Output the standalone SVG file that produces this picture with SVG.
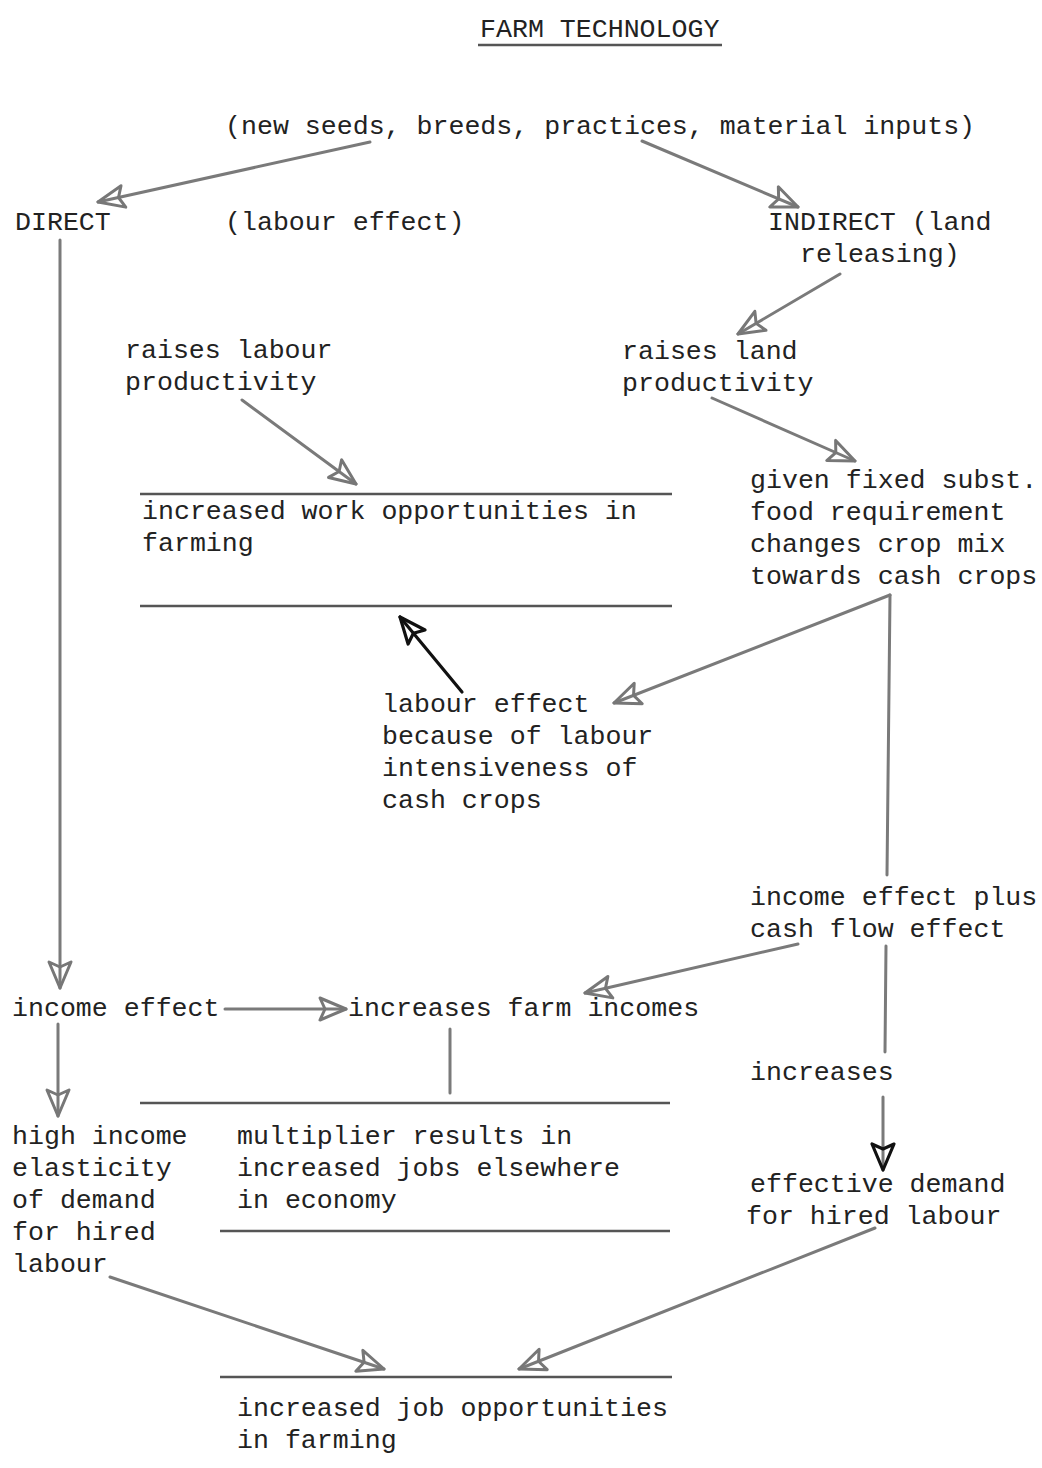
<svg xmlns="http://www.w3.org/2000/svg" width="1042" height="1468" viewBox="0 0 1042 1468">
<defs>
<style>
text{font-family:"Liberation Mono","Courier New",monospace;font-size:26.6px;fill:#222}
.c{fill:none;stroke:#7a7a7a;stroke-width:3;stroke-linecap:round}
.k{fill:none;stroke:#111;stroke-width:3.2;stroke-linecap:round}
.r{fill:none;stroke:#555;stroke-width:2.4}
</style>
<marker id="a" markerUnits="userSpaceOnUse" markerWidth="34" markerHeight="30" refX="30" refY="14" orient="auto" viewBox="0 0 34 28">
<path d="M30,14 L4,3 L9,14 L4,25 Z" fill="none" stroke="#777" stroke-width="3" stroke-linejoin="round"/>
</marker>
<marker id="ak" markerUnits="userSpaceOnUse" markerWidth="34" markerHeight="30" refX="30" refY="14" orient="auto" viewBox="0 0 34 28">
<path d="M30,14 L4,3 L9,14 L4,25 Z" fill="none" stroke="#111" stroke-width="3.2" stroke-linejoin="round"/>
</marker>
</defs>
<rect width="1042" height="1468" fill="#fff"/>

<g id="title">
<text x="480" y="37">FARM TECHNOLOGY</text>
<line class="r" x1="478" y1="45" x2="722" y2="45"/>
</g>
<g id="n_inputs"><text x="225" y="134">(new seeds, breeds, practices, material inputs)</text></g>
<g id="n_direct"><text x="15" y="230">DIRECT</text></g>
<g id="n_labour_effect_label"><text x="225" y="230">(labour effect)</text></g>
<g id="n_indirect"><text x="768" y="230">INDIRECT (land</text><text x="800" y="262">releasing)</text></g>
<g id="n_raises_labour"><text x="125" y="358">raises labour</text><text x="125" y="390">productivity</text></g>
<g id="n_raises_land"><text x="622" y="359">raises land</text><text x="622" y="391">productivity</text></g>
<g id="n_work_opp">
<line class="r" x1="140" y1="494" x2="672" y2="494"/>
<text x="142" y="519">increased work opportunities in</text>
<text x="142" y="551">farming</text>
<line class="r" x1="140" y1="606" x2="672" y2="606"/>
</g>
<g id="n_crop_mix"><text x="750" y="488">given fixed subst.</text><text x="750" y="520">food requirement</text><text x="750" y="552">changes crop mix</text><text x="750" y="584">towards cash crops</text></g>
<g id="n_labour_int"><text x="382" y="712">labour effect</text><text x="382" y="744">because of labour</text><text x="382" y="776">intensiveness of</text><text x="382" y="808">cash crops</text></g>
<g id="n_income_plus"><text x="750" y="905">income effect plus</text><text x="750" y="937">cash flow effect</text></g>
<g id="n_income_effect"><text x="12" y="1016">income effect</text></g>
<g id="n_farm_incomes"><text x="348" y="1016">increases farm incomes</text></g>
<g id="n_increases"><text x="750" y="1080">increases</text></g>
<g id="n_high_income"><text x="12" y="1144">high income</text><text x="12" y="1176">elasticity</text><text x="12" y="1208">of demand</text><text x="12" y="1240">for hired</text><text x="12" y="1272">labour</text></g>
<g id="n_multiplier">
<line class="r" x1="140" y1="1103" x2="670" y2="1103"/>
<text x="237" y="1144">multiplier results in</text>
<text x="237" y="1176">increased jobs elsewhere</text>
<text x="237" y="1208">in economy</text>
<line class="r" x1="220" y1="1231" x2="670" y2="1231"/>
</g>
<g id="n_effective"><text x="750" y="1192">effective demand</text><text x="746" y="1224">for hired labour</text></g>
<g id="n_job_opp">
<line class="r" x1="220" y1="1377" x2="672" y2="1377"/>
<text x="237" y="1416">increased job opportunities</text>
<text x="237" y="1448">in farming</text>
</g>

<g id="connectors">
<line class="c" x1="370" y1="142" x2="98" y2="202" marker-end="url(#a)"/>
<line class="c" x1="642" y1="141" x2="798" y2="207" marker-end="url(#a)"/>
<line class="c" x1="60" y1="240" x2="60" y2="988" marker-end="url(#a)"/>
<line class="c" x1="840" y1="274" x2="738" y2="334" marker-end="url(#a)"/>
<line class="c" x1="242" y1="400" x2="356" y2="484" marker-end="url(#a)"/>
<line class="c" x1="712" y1="398" x2="855" y2="461" marker-end="url(#a)"/>
<line class="c" x1="890" y1="595" x2="887" y2="875"/>
<line class="c" x1="890" y1="595" x2="614" y2="703" marker-end="url(#a)"/>
<line class="k" x1="462" y1="692" x2="400" y2="617" marker-end="url(#ak)"/>
<line class="c" x1="798" y1="944" x2="585" y2="993" marker-end="url(#a)"/>
<line class="c" x1="225" y1="1009" x2="346" y2="1009" marker-end="url(#a)"/>
<line class="c" x1="58" y1="1024" x2="58" y2="1116" marker-end="url(#a)"/>
<line class="c" x1="450" y1="1029" x2="450" y2="1093"/>
<line class="c" x1="886" y1="946" x2="885" y2="1052"/>
<line class="c" x1="883" y1="1097" x2="883" y2="1170" marker-end="url(#ak)"/>
<line class="c" x1="110" y1="1277" x2="384" y2="1369" marker-end="url(#a)"/>
<line class="c" x1="875" y1="1228" x2="519" y2="1369" marker-end="url(#a)"/>
</g>
</svg>
